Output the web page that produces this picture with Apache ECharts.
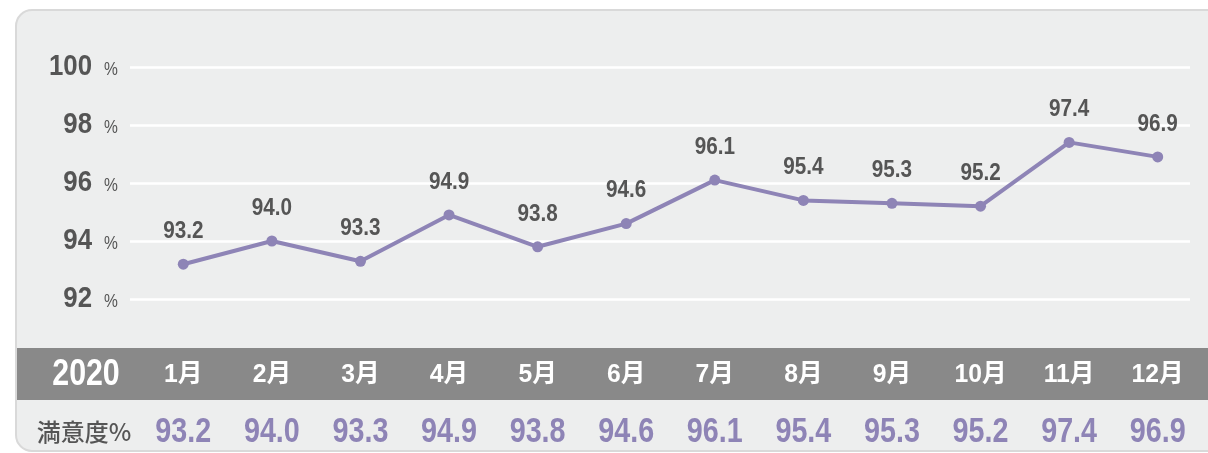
<!DOCTYPE html>
<html><head><meta charset="utf-8">
<script src="https://cdn.jsdelivr.net/npm/echarts@6/dist/echarts.min.js"></script>
<style>html,body{margin:0;padding:0;background:#fff}#c{width:1208px;height:453px}</style>
</head><body><div id="c"></div>
<script>
var months = ['1月','2月','3月','4月','5月','6月','7月','8月','9月','10月','11月','12月'];
var satisfaction = [93.2, 94.0, 93.3, 94.9, 93.8, 94.6, 96.1, 95.4, 95.3, 95.2, 97.4, 96.9];
var yTicks = [92, 94, 96, 98, 100];
var yearLabel = '2020';
var rowLabel = '満意度%';

var SANS = '"Liberation Sans","Noto Sans CJK JP",sans-serif';
var PURPLE = '#8e84b6';
var DARK = '#555555';
var chart = echarts.init(document.getElementById('c'));
chart.setOption({
  backgroundColor: '#fff',
  animation: false,
  grid: [
    {left: 130, right: 18, top: 67, height: 232},
    {left: 139, right: 6, top: 67, height: 232}
  ],
  xAxis: [
    {gridIndex: 0, type: 'value', show: false, min: 0, max: 1},
    {gridIndex: 1, type: 'category', data: months, boundaryGap: true,
     axisLine: {show: false}, axisTick: {show: false}, splitLine: {show: false},
     axisLabel: {show: false}}
  ],
  yAxis: [
    {gridIndex: 0, type: 'value', min: 92, max: 100, interval: 2,
     axisLine: {show: false}, axisTick: {show: false}, axisLabel: {show: false},
     splitLine: {show: true, lineStyle: {color: '#ffffff', width: 2.5}}},
    {gridIndex: 1, type: 'value', min: 92, max: 100, show: false, splitLine: {show: false}}
  ],
  series: [{
    type: 'line', xAxisIndex: 1, yAxisIndex: 1, data: satisfaction,
    lineStyle: {color: PURPLE, width: 4},
    itemStyle: {color: PURPLE},
    symbol: 'circle', symbolSize: 11,
    label: {show: false}
  }]
});

function txt(x, y, text, font, fill, sx, align, vAlign) {
  return {type: 'text', z: 10, x: x, y: y, scaleX: sx, silent: true,
    style: {text: text, font: font, fill: fill, align: align || 'center', verticalAlign: vAlign || 'middle'}};
}

var g = [
  {type: 'rect', z: -10, shape: {x: 16, y: 10, width: 1210, height: 441, r: 16},
   style: {fill: '#edeeee', stroke: '#d9d9d9', lineWidth: 2}},
  {type: 'rect', z: -9, shape: {x: 17, y: 348, width: 1200, height: 52},
   style: {fill: '#898989'}},
  txt(86, 375, yearLabel, 'bold 37px ' + SANS, '#fff', 0.82),
  txt(84, 432, rowLabel, '500 24px "Noto Sans CJK JP",sans-serif', DARK, 1)
];
yTicks.forEach(function (t) {
  var py = chart.convertToPixel({yAxisIndex: 0}, t);
  g.push(txt(92, py - 0.5, String(t), 'bold 30px ' + SANS, DARK, 0.86, 'right'));
  g.push(txt(104, py + 3, '%', '19px ' + SANS, DARK, 0.82, 'left'));
});
satisfaction.forEach(function (v, i) {
  var p = chart.convertToPixel({xAxisIndex: 1, yAxisIndex: 1}, [i, v]);
  g.push(txt(p[0], p[1] - 21, v.toFixed(1), 'bold 23px ' + SANS, DARK, 0.9, 'center', 'bottom'));
  g.push(txt(p[0], 375, months[i], 'bold 26px ' + SANS, '#fff', 0.95));
  g.push(txt(p[0], 432, v.toFixed(1), 'bold 35px ' + SANS, PURPLE, 0.82));
});
chart.setOption({graphic: g});
</script></body></html>
